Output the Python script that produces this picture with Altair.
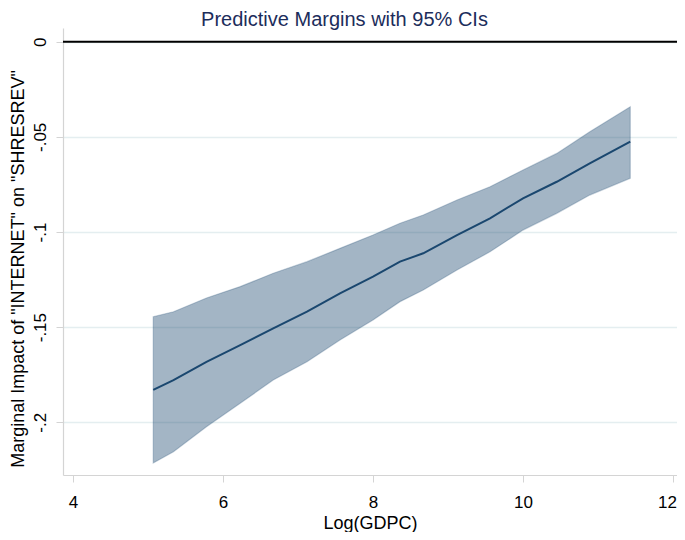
import altair as alt
import pandas as pd

# Values
x_vals = [5.07, 5.34, 5.78, 6.23, 6.67, 7.12, 7.56, 8.00, 8.36, 8.67, 9.12, 9.56, 10.00, 10.45, 10.89, 11.43]
upper = [-0.1445, -0.1419, -0.1347, -0.1287, -0.1217, -0.1156, -0.1086, -0.1016, -0.0954, -0.0911,
         -0.0832, -0.0762, -0.0674, -0.0587, -0.0473, -0.0342]
center = [-0.1830, -0.1778, -0.1682, -0.1594, -0.1506, -0.1419, -0.1322, -0.1235, -0.1156, -0.1112,
          -0.1016, -0.0928, -0.0823, -0.0736, -0.0639, -0.0525]
lower = [-0.2214, -0.2155, -0.2023, -0.1900, -0.1778, -0.1682, -0.1568, -0.1462, -0.1366, -0.1305,
         -0.1200, -0.1104, -0.0990, -0.0902, -0.0806, -0.0718]
y_ticks = [0, -0.05, -0.1, -0.15, -0.2]
y_tick_labels = ["0", "-.05", "-.1", "-.15", "-.2"]
x_ticks = [4, 6, 8, 10, 12]
zero_line = [0]

df = pd.DataFrame({"x": x_vals, "lo": lower, "mid": center, "hi": upper})
zero_df = pd.DataFrame({"y": zero_line})

label_expr = " : ".join(
    f"abs(datum.value - ({v})) < 1e-9 ? '{l}'" for v, l in zip(y_ticks, y_tick_labels)
) + " : ''"

FONT = "Liberation Sans"
NAVY = "#1a476f"
AXIS_GRAY = "#d4d4d4"
X_TITLE = "Log(GDPC)"
Y_TITLE = 'Marginal Impact of "INTERNET" on "SHRESREV"'

xscale = alt.Scale(domain=[3.867, 12.053], nice=False, zero=False)
yscale = alt.Scale(domain=[-0.2277, 0.0072], nice=False, zero=False)

x_axis = alt.Axis(
    values=x_ticks, format="d", grid=False,
    labelFont=FONT, labelFontSize=17, labelColor="black", labelPadding=12,
    labelOffset={"condition": {"test": f"datum.value === {x_ticks[-1]}", "value": -6}, "value": 0},
    titleFont=FONT, titleFontSize=18, titleFontWeight="normal", titleColor="black",
    titleY=53, titleBaseline="alphabetic",
    tickSize=7, tickColor=AXIS_GRAY, domainColor=AXIS_GRAY, domainWidth=1.2,
)
y_axis = alt.Axis(
    values=y_ticks, labelExpr=label_expr,
    labelFont=FONT, labelFontSize=17, labelColor="black", labelAngle=270,
    labelAlign="center", labelBaseline="alphabetic", labelPadding=11,
    titleFont=FONT, titleFontSize=18, titleFontWeight="normal", titleColor="black",
    titleAngle=270, titleX=-40, titleY=240.5, titleBaseline="alphabetic", titleAlign="center",
    tickSize=7, tickColor=AXIS_GRAY, domainColor=AXIS_GRAY, domainWidth=1.2,
    grid=True, gridColor="#e4eef0", gridWidth=1.3,
)

band = alt.Chart(df).mark_area(
    color=NAVY, fillOpacity=0.4, stroke=NAVY, strokeOpacity=0.25, strokeWidth=1.2
).encode(
    x=alt.X("x:Q", scale=xscale, axis=x_axis, title=X_TITLE),
    y=alt.Y("lo:Q", scale=yscale, axis=y_axis, title=Y_TITLE),
    y2="hi:Q",
)

line = alt.Chart(df).mark_line(color=NAVY, strokeWidth=2).encode(
    x=alt.X("x:Q", scale=xscale, axis=x_axis, title=X_TITLE),
    y=alt.Y("mid:Q", scale=yscale, axis=y_axis, title=Y_TITLE),
)

zero = alt.Chart(zero_df).mark_rule(color="black", strokeWidth=2).encode(
    y=alt.Y("y:Q", scale=yscale, axis=y_axis, title=Y_TITLE),
)

chart = alt.layer(band, line, zero).properties(
    width=614,
    height=447,
    autosize=alt.AutoSizeParams(type="none"),
    padding={"left": 55, "top": 20, "right": 0, "bottom": 57},
    title=alt.TitleParams(
        text="Predictive Margins with 95% CIs",
        font=FONT, fontSize=20, fontWeight="normal", color="#1c2d5b",
        anchor="middle", dx=-25.5, dy=18, offset=0, baseline="alphabetic",
    ),
    background="white",
).configure_view(stroke=None)

chart.save("out.html", embed_options={"renderer": "svg", "actions": False})
